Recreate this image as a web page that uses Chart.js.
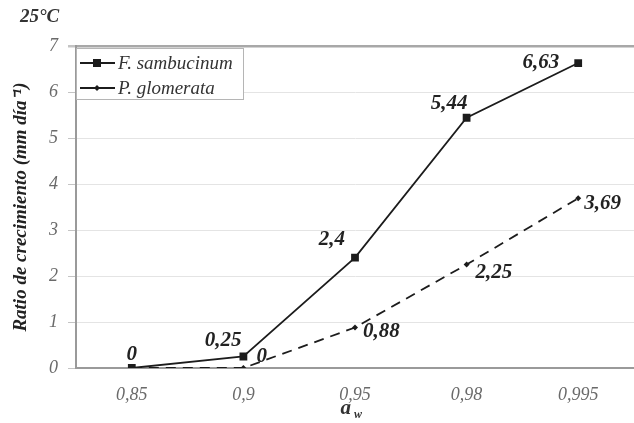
<!DOCTYPE html>
<html><head><meta charset="utf-8">
<script src="https://cdn.jsdelivr.net/npm/chart.js@4.4.1/dist/chart.umd.min.js"></script>
<style>html,body{margin:0;padding:0;background:#fff}#wrap{width:634px;height:423px;position:relative}</style>
</head><body><div id="wrap"><canvas id="c" width="634" height="423"></canvas></div>
<script>
// ---- data ----
const categories = ['0,85', '0,9', '0,95', '0,98', '0,995'];
const fSambucinum = [0, 0.25, 2.4, 5.44, 6.63];
const pGlomerata = [0, 0, 0.88, 2.25, 3.69];
const seriesNames = ['F. sambucinum', 'P. glomerata'];
const yTicks = [0, 1, 2, 3, 4, 5, 6, 7];
const chartTitle = '25°C';
const yTitle = 'Ratio de crecimiento (mm día⁻¹)';
const xTitleMain = 'a';
const xTitleSub = 'w';
// which points carry a value label (P. glomerata first point hidden behind F. sambucinum's)
const fShowLabel = [true, true, true, true, true];
const pShowLabel = [false, true, true, true, true];

// ---- style / placement (not data) ----
const FONT = "'Liberation Serif', 'Times New Roman', serif";
const INK = '#1c1c1c';
const labelPlace = [
  [['center', 0, -13], ['right', -2, -16], ['right', -10, -18], ['right', 1, -14], ['right', -19, 0]],
  [null, ['left', 13, -11], ['left', 8, 4], ['left', 9, 8], ['left', 6, 5]]
];
const fmt = v => String(v).replace('.', ',');

const overlay = {
  id: 'overlay',
  afterDatasetsDraw(chart) {
    const ctx = chart.ctx;
    ctx.save();
    // value labels
    ctx.font = "italic bold 21px " + FONT;
    ctx.fillStyle = '#222';
    ctx.textBaseline = 'middle';
    const shows = [fShowLabel, pShowLabel];
    chart.data.datasets.forEach((ds, di) => {
      const meta = chart.getDatasetMeta(di);
      meta.data.forEach((pt, i) => {
        const pl = labelPlace[di][i];
        if (!shows[di][i] || !pl) return;
        ctx.textAlign = pl[0];
        ctx.fillText(fmt(ds.data[i]), pt.x + pl[1], pt.y + pl[2]);
      });
    });
    // legend box
    const lx = 76, ly = 48, lw = 167, lh = 51;
    ctx.fillStyle = '#fff';
    ctx.fillRect(lx, ly, lw, lh);
    ctx.strokeStyle = '#b5b5b5';
    ctx.lineWidth = 1;
    ctx.strokeRect(lx + 0.5, ly + 0.5, lw, lh);
    const rows = [63, 88];
    chart.data.datasets.forEach((ds, di) => {
      const y = rows[di];
      ctx.strokeStyle = INK;
      ctx.lineWidth = 1.8;
      ctx.setLineDash([]);
      ctx.beginPath(); ctx.moveTo(80, y); ctx.lineTo(115, y); ctx.stroke();
      ctx.fillStyle = INK;
      if (di === 0) { ctx.fillRect(93, y - 4, 8, 8); }
      else { ctx.beginPath(); ctx.moveTo(97, y - 3); ctx.lineTo(100, y); ctx.lineTo(97, y + 3); ctx.lineTo(94, y); ctx.closePath(); ctx.fill(); }
      ctx.font = "italic 19px " + FONT;
      ctx.fillStyle = '#333';
      ctx.textAlign = 'left';
      ctx.fillText(ds.label, 118, y + 1);
    });
    // chart title
    ctx.font = "italic bold 19px " + FONT;
    ctx.fillStyle = '#333';
    ctx.textAlign = 'left';
    ctx.fillText(chartTitle, 20, 17);
    // x title with subscript
    const cx = (chart.chartArea.left + chart.chartArea.right) / 2;
    ctx.font = "italic bold 21px " + FONT;
    ctx.textAlign = 'right';
    ctx.fillText(xTitleMain, cx - 4, 409);
    ctx.font = "italic bold 12px " + FONT;
    ctx.textAlign = 'left';
    ctx.fillText(xTitleSub, cx - 1, 415);
    ctx.restore();
  }
};

Chart.defaults.font.family = FONT;

new Chart(document.getElementById('c'), {
  type: 'line',
  data: {
    labels: categories,
    datasets: [
      {
        label: seriesNames[0], data: fSambucinum,
        borderColor: INK, backgroundColor: INK, borderWidth: 1.8,
        pointStyle: 'rect', pointRadius: 5.5, pointBorderWidth: 0, tension: 0
      },
      {
        label: seriesNames[1], data: pGlomerata,
        borderColor: INK, backgroundColor: INK, borderWidth: 1.8, borderDash: [10, 7],
        pointStyle: 'rectRot', pointRadius: 3, pointBorderWidth: 0, tension: 0
      }
    ]
  },
  options: {
    responsive: false,
    animation: false,
    layout: { autoPadding: false, padding: { top: 46, right: 0, left: 0, bottom: 0 } },
    plugins: { legend: { display: false }, tooltip: { enabled: false }, title: { display: false } },
    scales: {
      x: {
        offset: true,
        grid: { display: true, drawOnChartArea: false, drawTicks: true, tickLength: 16, color: 'rgba(0,0,0,0)' },
        border: { color: '#9a9a9a', width: 2 },
        ticks: { font: { size: 18, style: 'italic' }, color: '#6a6a6a', padding: 0 },
        afterFit: s => { s.height = 55; s.paddingLeft = 0; s.paddingRight = 0; }
      },
      y: {
        min: yTicks[0], max: yTicks[yTicks.length - 1],
        afterBuildTicks: s => { s.ticks = yTicks.map(v => ({ value: v })); },
        ticks: { font: { size: 18, style: 'italic' }, color: '#6a6a6a', padding: 10 },
        grid: {
          color: c => (c.tick && c.tick.value === 7) ? '#a8a8a8' : '#e4e4e4',
          lineWidth: c => (c.tick && c.tick.value === 7) ? 2.5 : 1,
          tickLength: 8, tickColor: '#c4c4c4'
        },
        border: { color: '#9a9a9a', width: 2 },
        title: {
          display: true, text: yTitle, color: '#222',
          font: { size: 19, weight: 'bold', style: 'italic' },
          padding: { top: 10, bottom: 0 }
        },
        afterFit: s => { s.width = 76; }
      }
    }
  },
  plugins: [overlay]
});
</script>
</body></html>
